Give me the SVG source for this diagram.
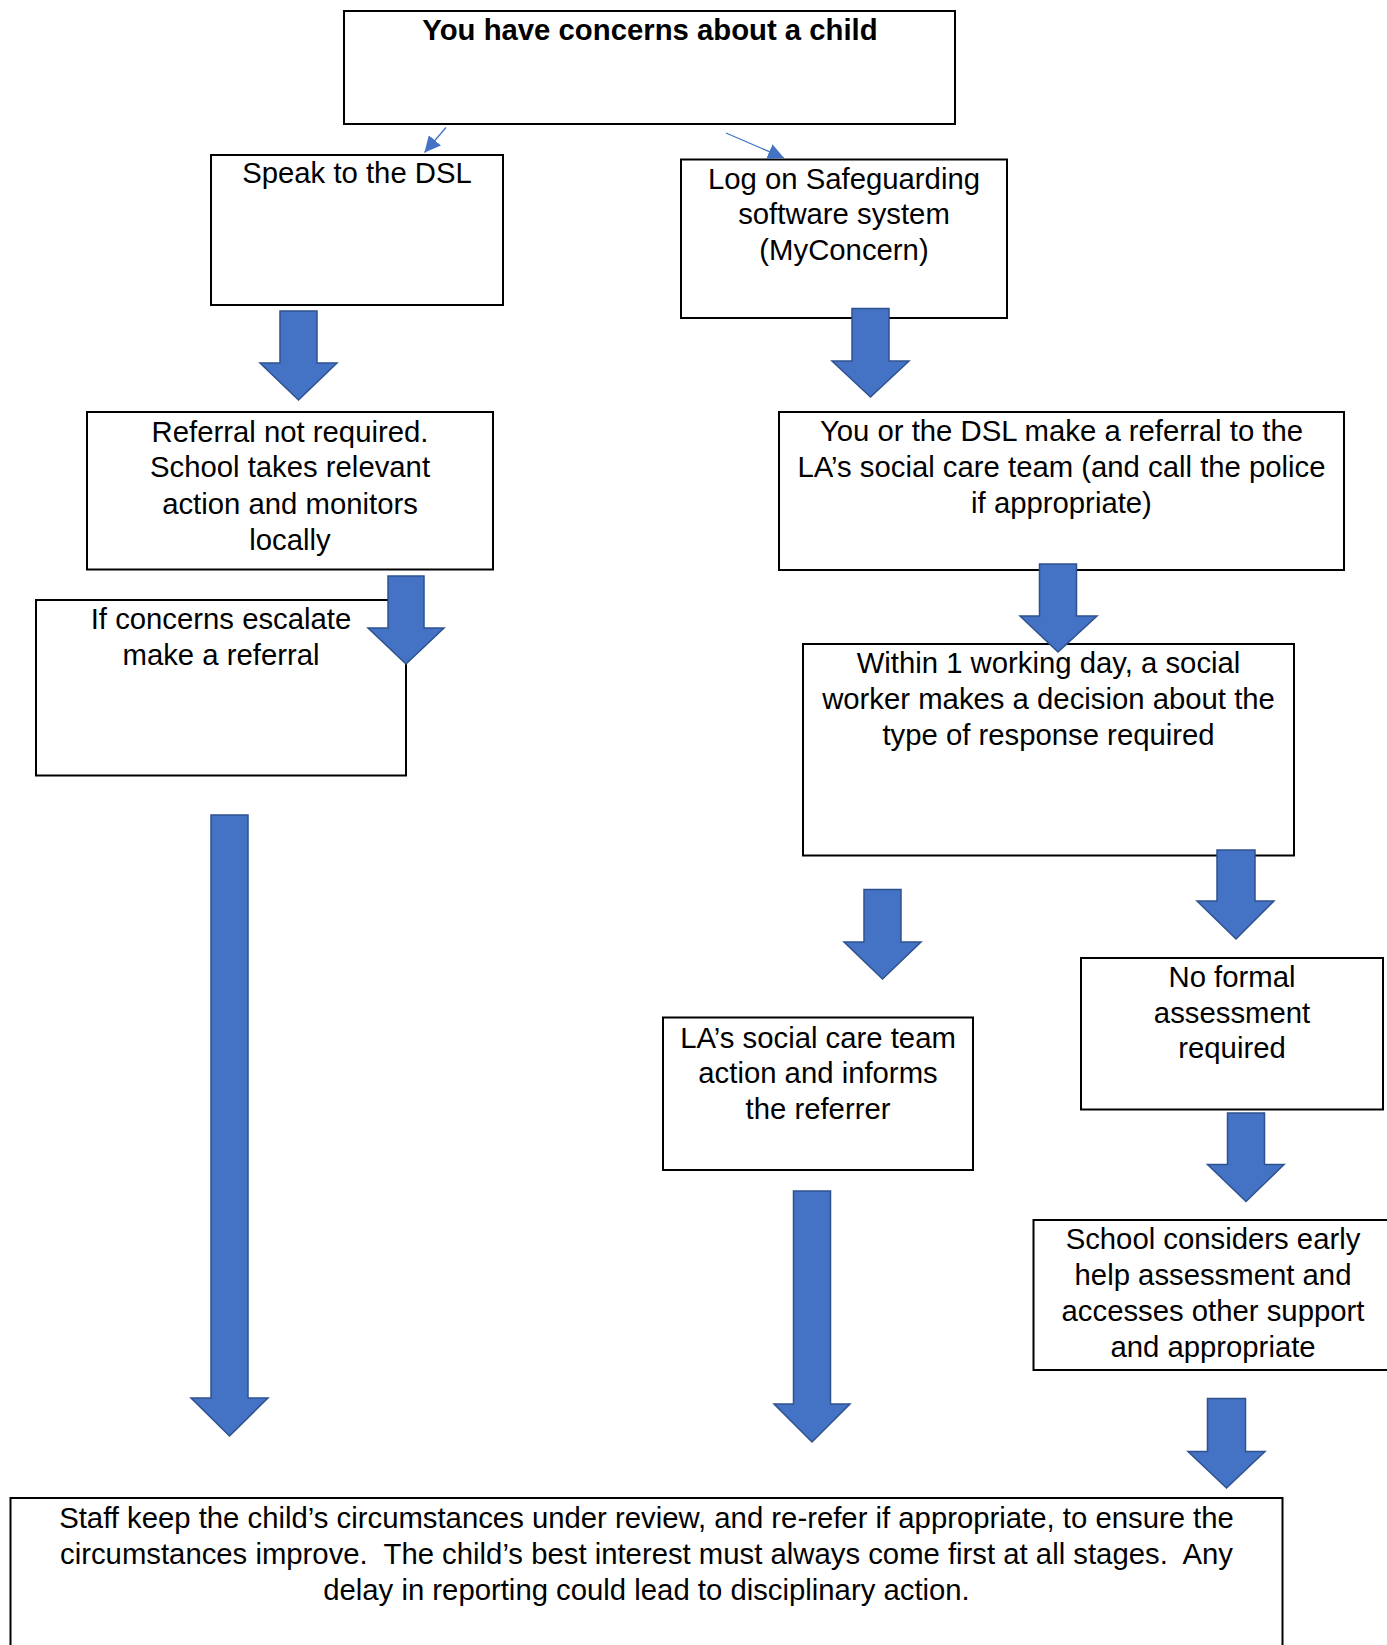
<svg xmlns="http://www.w3.org/2000/svg" width="1387" height="1645" viewBox="0 0 1387 1645">
<defs>
<style>
.box{fill:#ffffff;stroke:#000000;stroke-width:2}
.t{font-family:"Liberation Sans",Arial,sans-serif;font-size:29.3px;fill:#000000;text-anchor:middle}
.b{font-weight:bold}
.blk{fill:#4472C4;stroke:#2F528F;stroke-width:1.5;stroke-linejoin:miter}
.thin{fill:none;stroke:#4472C4;stroke-width:1.3}
</style>
<marker id="ah" markerUnits="userSpaceOnUse" markerWidth="18" markerHeight="16" refX="16" refY="8" orient="auto">
<path d="M0,0 L16,8 L0,16 Z" fill="#4472C4"/>
</marker>
</defs>
<rect x="0" y="0" width="1387" height="1645" fill="#ffffff"/>

<g id="node-top">
<rect class="box" x="344" y="11" width="611" height="113"/>
<text class="t b" x="650" y="39.5">You have concerns about a child</text>
</g>
<g id="node-speak">
<rect class="box" x="211" y="155" width="292" height="150"/>
<text class="t" x="357" y="183">Speak to the DSL</text>
</g>
<g id="node-logon">
<rect class="box" x="681" y="159.5" width="326" height="158.5"/>
<text class="t" x="844" y="189">Log on Safeguarding</text>
<text class="t" x="844" y="224">software system</text>
<text class="t" x="844" y="259.5">(MyConcern)</text>
</g>
<g id="node-referral">
<rect class="box" x="87" y="412" width="406" height="157.5"/>
<text class="t" x="290" y="441.5">Referral not required.</text>
<text class="t" x="290" y="477">School takes relevant</text>
<text class="t" x="290" y="513.5">action and monitors</text>
<text class="t" x="290" y="549.5">locally</text>
</g>
<g id="node-escalate">
<rect class="box" x="36" y="600" width="370" height="175.5"/>
<text class="t" x="221" y="629">If concerns escalate</text>
<text class="t" x="221" y="664.5">make a referral</text>
</g>
<g id="node-youor">
<rect class="box" x="779" y="412" width="565" height="158"/>
<text class="t" x="1061.5" y="441">You or the DSL make a referral to the</text>
<text class="t" x="1061.5" y="476.5">LA’s social care team (and call the police</text>
<text class="t" x="1061.5" y="512.5">if appropriate)</text>
</g>
<g id="node-within">
<rect class="box" x="803" y="644" width="491" height="211.5"/>
<text class="t" x="1048.5" y="672.5">Within 1 working day, a social</text>
<text class="t" x="1048.5" y="708.5">worker makes a decision about the</text>
<text class="t" x="1048.5" y="744.5">type of response required</text>
</g>
<g id="node-la">
<rect class="box" x="663" y="1017.5" width="310" height="152.5"/>
<text class="t" x="818" y="1047.5">LA’s social care team</text>
<text class="t" x="818" y="1083">action and informs</text>
<text class="t" x="818" y="1118.5">the referrer</text>
</g>
<g id="node-noformal">
<rect class="box" x="1081" y="958" width="302" height="151.5"/>
<text class="t" x="1232" y="986.5">No formal</text>
<text class="t" x="1232" y="1022.5">assessment</text>
<text class="t" x="1232" y="1058">required</text>
</g>
<g id="node-school">
<rect class="box" x="1033.5" y="1220" width="360" height="150"/>
<text class="t" x="1213" y="1249">School considers early</text>
<text class="t" x="1213" y="1285">help assessment and</text>
<text class="t" x="1213" y="1321">accesses other support</text>
<text class="t" x="1213" y="1357">and appropriate</text>
</g>
<g id="node-bottom">
<rect class="box" x="10.5" y="1498" width="1272" height="160"/>
<text class="t" x="646.5" y="1527.5">Staff keep the child’s circumstances under review, and re-refer if appropriate, to ensure the</text>
<text class="t" x="646.5" y="1563.5" xml:space="preserve">circumstances improve.  The child’s best interest must always come first at all stages.  Any</text>
<text class="t" x="646.5" y="1599.5">delay in reporting could lead to disciplinary action.</text>
</g>

<g id="connectors">
<line class="thin" x1="446" y1="127.5" x2="424.5" y2="152.5" marker-end="url(#ah)"/>
<line class="thin" x1="726" y1="133" x2="784" y2="158" marker-end="url(#ah)"/>
<path class="blk" d="M280,311 H317 V363 H337 L298.5,400 L260,363 H280 Z"/>
<path class="blk" d="M388,576 H424 V628 H444 L406,664 L368,628 H388 Z"/>
<path class="blk" d="M211,815 H248 V1398 H268 L229.5,1436 L191,1398 H211 Z"/>
<path class="blk" d="M852,308.5 H889 V361 H909 L870.5,397 L832,361 H852 Z"/>
<path class="blk" d="M1039.5,564 H1076.5 V616 H1097 L1058,652 L1020,616 H1039.5 Z"/>
<path class="blk" d="M1217,850 H1255 V901 H1274 L1236,939 L1197,901 H1217 Z"/>
<path class="blk" d="M864,889.5 H901 V942 H921 L882.5,979 L844,942 H864 Z"/>
<path class="blk" d="M1227.5,1113 H1264.5 V1164.5 H1284 L1246,1201.5 L1207.5,1164.5 H1227.5 Z"/>
<path class="blk" d="M793.5,1191 H830.5 V1404 H850 L812,1442 L774,1404 H793.5 Z"/>
<path class="blk" d="M1207.5,1398.5 H1245.5 V1451.5 H1265 L1226.5,1488 L1188,1451.5 H1207.5 Z"/>
</g>
</svg>
